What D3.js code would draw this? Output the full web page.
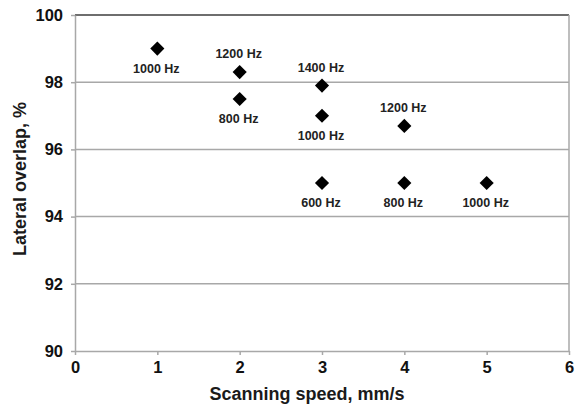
<!DOCTYPE html>
<html>
<head>
<meta charset="utf-8">
<script src="https://cdn.jsdelivr.net/npm/d3@7"></script>
<style>
  html, body { margin: 0; padding: 0; background: #fff; }
  svg { display: block; font-family: "Liberation Sans", Arial, sans-serif; }
</style>
</head>
<body>
<svg id="chart" width="577" height="409"></svg>
<script>
// Scanning speed (mm/s), lateral overlap (%) and pulse frequency label
const speeds   = [1, 2, 2, 3, 3, 3, 4, 4, 5];
const overlaps = [99.0, 98.3, 97.5, 97.9, 97.0, 95.0, 96.7, 95.0, 95.0];
const freqLabels = ["1000 Hz", "1200 Hz", "800 Hz", "1400 Hz", "1000 Hz", "600 Hz", "1200 Hz", "800 Hz", "1000 Hz"];
const labelSide  = ["below", "above", "below", "above", "below", "below", "above", "below", "below"];

const xTicks = [0, 1, 2, 3, 4, 5, 6];
const yTicks = [90, 92, 94, 96, 98, 100];

const svg = d3.select("#chart");
const margin = { left: 75, right: 8, top: 15, bottom: 58 };
const W = 577, H = 409;

const x = d3.scaleLinear().domain([0, 6]).range([margin.left, W - margin.right]);
const y = d3.scaleLinear().domain([90, 100]).range([H - margin.bottom, margin.top]);

// horizontal gridlines
svg.append("g")
  .selectAll("line")
  .data(yTicks.filter(d => d > 90))
  .join("line")
  .attr("x1", x(0)).attr("x2", x(6))
  .attr("y1", d => y(d)).attr("y2", d => y(d))
  .attr("stroke", d => d === 100 ? "#6e6e6e" : "#a8a8a8")
  .attr("stroke-width", d => d === 100 ? 2 : 1.5);

// right border
svg.append("line")
  .attr("x1", x(6)).attr("x2", x(6))
  .attr("y1", y(100)).attr("y2", y(90))
  .attr("stroke", "#a8a8a8").attr("stroke-width", 1.5);

const tickFont = sel => sel
  .attr("fill", "#111").attr("font-size", 16.5).attr("font-weight", "bold")
  .attr("font-family", "Liberation Sans, Arial, sans-serif");

// y axis
const yAxis = svg.append("g")
  .attr("transform", `translate(${x(0)},0)`)
  .call(d3.axisLeft(y).tickValues(yTicks).tickFormat(d3.format("d"))
    .tickSize(4).tickPadding(8).tickSizeOuter(0));
yAxis.select(".domain").attr("stroke", "#a8a8a8").attr("stroke-width", 1.5);
yAxis.selectAll(".tick line").attr("stroke", "#a8a8a8").attr("stroke-width", 1.5);
yAxis.selectAll(".tick text").call(tickFont);

// x axis
const xAxis = svg.append("g")
  .attr("transform", `translate(0,${y(90)})`)
  .call(d3.axisBottom(x).tickValues(xTicks).tickFormat(d3.format("d"))
    .tickSize(4).tickPadding(6).tickSizeOuter(0));
xAxis.select(".domain").attr("stroke", "#a8a8a8").attr("stroke-width", 1.5);
xAxis.selectAll(".tick line").attr("stroke", "#a8a8a8").attr("stroke-width", 1.5);
xAxis.selectAll(".tick text").call(tickFont);

// axis titles
svg.append("text")
  .attr("x", 307).attr("y", 400)
  .attr("text-anchor", "middle")
  .attr("font-size", 18).attr("font-weight", "bold").attr("fill", "#1a1a1a")
  .text("Scanning speed, mm/s");

svg.append("text")
  .attr("transform", `translate(26,${179}) rotate(-90)`)
  .attr("text-anchor", "middle")
  .attr("font-size", 18).attr("font-weight", "bold").attr("fill", "#1a1a1a")
  .text("Lateral overlap, %");

// diamond markers (squares turned 45°)
const pts = speeds.map((s, i) => ({ s, v: overlaps[i], label: freqLabels[i], side: labelSide[i] }));

svg.append("g")
  .selectAll("path")
  .data(pts)
  .join("path")
  .attr("transform", d => `translate(${x(d.s)},${y(d.v)}) rotate(45)`)
  .attr("d", d3.symbol().type(d3.symbolSquare).size(100))
  .attr("fill", "#000");

// frequency labels
svg.append("g")
  .selectAll("text")
  .data(pts)
  .join("text")
  .attr("x", d => x(d.s) - 1)
  .attr("y", d => y(d.v) + (d.side === "above" ? -14 : 24))
  .attr("text-anchor", "middle")
  .attr("font-size", 12.5).attr("font-weight", "bold").attr("fill", "#222")
  .text(d => d.label);
</script>
</body>
</html>
